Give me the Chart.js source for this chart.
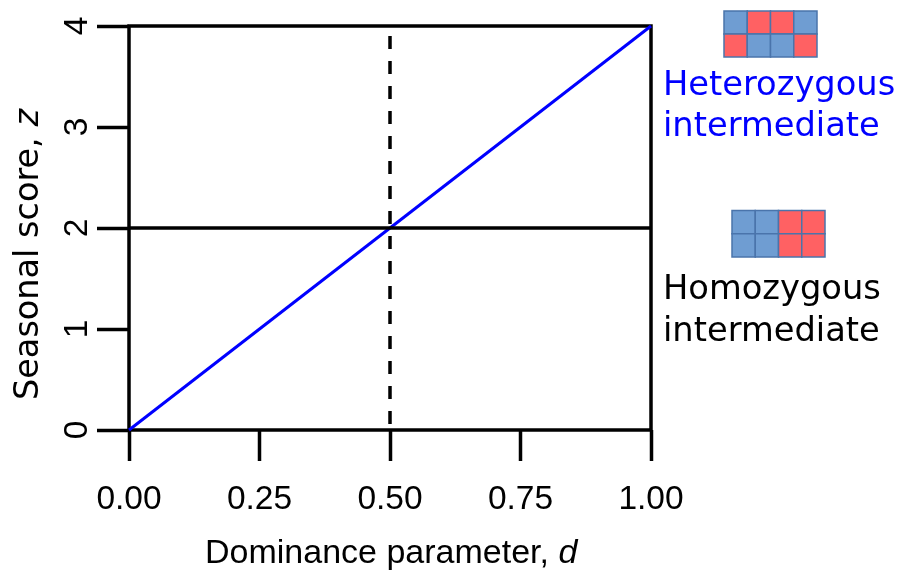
<!DOCTYPE html>
<html>
<head>
<meta charset="utf-8">
<style>
  html, body { margin: 0; padding: 0; background: #fff; }
  canvas { display: block; }
</style>
<script src="https://cdn.jsdelivr.net/npm/chart.js@4"></script>
</head>
<body>
<canvas id="chart" width="897" height="571"></canvas>
<script>
const xTicks = [0, 0.25, 0.5, 0.75, 1];
const yTicks = [0, 1, 2, 3, 4];
const heteroLine = [{ x: 0, y: 0 }, { x: 1, y: 4 }];
const homoLine = [{ x: 0, y: 2 }, { x: 1, y: 2 }];
const midLine = [{ x: 0.5, y: 0 }, { x: 0.5, y: 4 }];

// b = blue, r = red, two rows of four
const heteroCells = ['b', 'r', 'r', 'b', 'r', 'b', 'b', 'r'];
const homoCells = ['b', 'b', 'r', 'r', 'b', 'b', 'r', 'r'];
const cellColors = { b: '#6f9dd2', r: '#ff6163' };

const tickFont = 'Liberation Sans';
const sideFont = 'DejaVu Sans';

function drawCells(ctx, cells, left, top, w, h) {
  const cw = w / 4, ch = h / 2;
  ctx.lineWidth = 1.5;
  ctx.strokeStyle = '#4a74ab';
  cells.forEach((c, i) => {
    const x = left + (i % 4) * cw;
    const y = top + Math.floor(i / 4) * ch;
    ctx.fillStyle = cellColors[c];
    ctx.fillRect(x, y, cw, ch);
    ctx.strokeRect(x, y, cw, ch);
  });
}

const extras = {
  id: 'extras',
  beforeDatasetsDraw(chart) {
    const { ctx, chartArea: a } = chart;
    ctx.save();
    ctx.strokeStyle = '#000';
    ctx.lineWidth = 3.5;
    ctx.strokeRect(a.left, a.top, a.right - a.left, a.bottom - a.top);
    ctx.restore();
  },
  afterDraw(chart) {
    const { ctx } = chart;
    ctx.save();
    ctx.fillStyle = '#000';
    ctx.textBaseline = 'alphabetic';
    ctx.textAlign = 'left';

    // x title
    ctx.font = `34px "${tickFont}"`;
    const xt = 'Dominance parameter, ';
    ctx.fillText(xt, 205, 563);
    const xw = ctx.measureText(xt).width;
    ctx.font = `italic 34px "${tickFont}"`;
    ctx.fillText('d', 205 + xw, 563);

    // y title
    ctx.save();
    ctx.translate(38, 400);
    ctx.rotate(-Math.PI / 2);
    ctx.font = `33.5px "${sideFont}"`;
    const yt = 'Seasonal score, ';
    ctx.fillText(yt, 0, 0);
    const yw = ctx.measureText(yt).width;
    ctx.font = `italic 33.5px "${sideFont}"`;
    ctx.fillText('z', yw, 0);
    ctx.restore();

    drawCells(ctx, heteroCells, 724, 11, 93, 46);
    drawCells(ctx, homoCells, 732, 210.5, 93, 46.5);
    ctx.fillStyle = '#0000ff';
    ctx.font = `33.7px "${sideFont}"`;
    ctx.fillText('Heterozygous', 663, 95);
    ctx.fillText('intermediate', 663, 136);
    ctx.fillStyle = '#000';
    ctx.fillText('Homozygous', 663, 299);
    ctx.fillText('intermediate', 663, 341);
    ctx.restore();
  }
};

new Chart(document.getElementById('chart'), {
  type: 'scatter',
  data: {
    datasets: [
      { data: homoLine, showLine: true, borderColor: '#000', borderWidth: 3.5, pointRadius: 0, clip: false },
      { data: midLine, showLine: true, borderColor: '#000', borderWidth: 3.5, borderDash: [13, 12], borderDashOffset: 19, pointRadius: 0, clip: false },
      { data: heteroLine, showLine: true, borderColor: '#0000ff', borderWidth: 3, pointRadius: 0, clip: false }
    ]
  },
  options: {
    responsive: false,
    animation: false,
    layout: { padding: { top: 26, right: 246, left: 0, bottom: 0 } },
    plugins: { legend: { display: false }, tooltip: { enabled: false } },
    scales: {
      x: {
        type: 'linear',
        min: 0,
        max: 1,
        afterBuildTicks: s => { s.ticks = xTicks.map(v => ({ value: v })); },
        afterFit: s => { s.height = 141; },
        border: { display: false },
        grid: { drawOnChartArea: false, color: '#000', tickColor: '#000', tickWidth: 3.5, tickLength: 31 },
        ticks: {
          maxRotation: 0,
          autoSkip: false,
          padding: 19,
          color: '#000',
          font: { family: tickFont, size: 33.5 },
          callback: v => v.toFixed(2)
        }
      },
      y: {
        type: 'linear',
        min: 0,
        max: 4,
        afterBuildTicks: s => { s.ticks = yTicks.map(v => ({ value: v })); },
        afterFit: s => { s.width = 129; s.paddingTop = 0; s.paddingBottom = 0; },
        border: { display: false },
        grid: { drawOnChartArea: false, color: '#000', tickColor: '#000', tickWidth: 3.5, tickLength: 32 },
        ticks: {
          minRotation: 90,
          maxRotation: 90,
          autoSkip: false,
          crossAlign: 'center',
          padding: 10,
          color: '#000',
          font: { family: tickFont, size: 33.5 },
          callback: v => String(v)
        }
      }
    }
  },
  plugins: [extras]
});
</script>
</body>
</html>
